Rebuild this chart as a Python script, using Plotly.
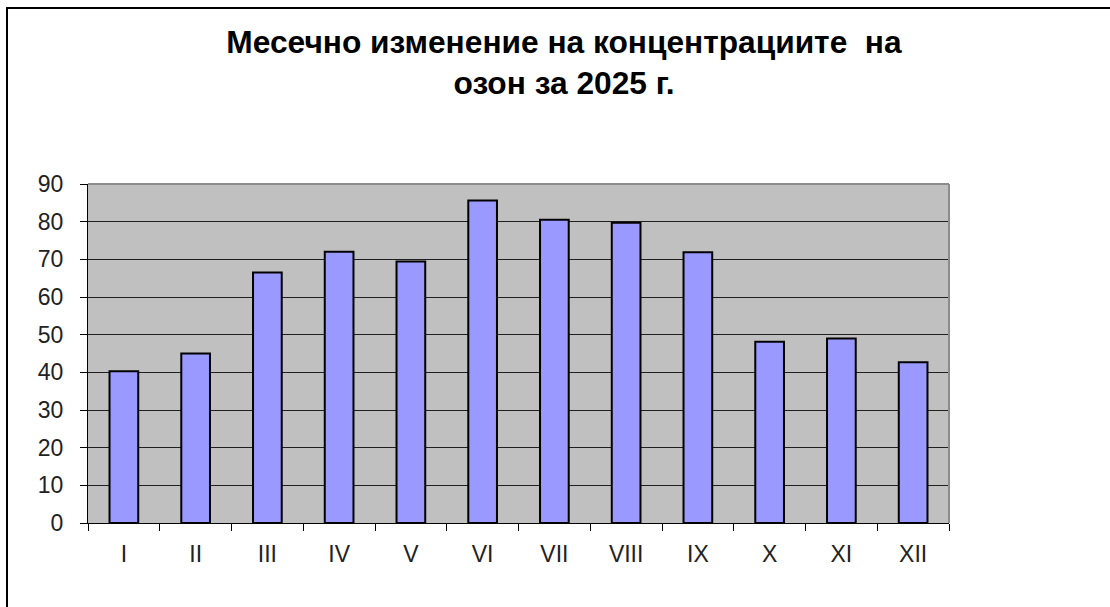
import plotly.graph_objects as go

months = ["I", "II", "III", "IV", "V", "VI", "VII", "VIII", "IX", "X", "XI", "XII"]
ozone = [40.3, 45.0, 66.5, 72.0, 69.4, 85.6, 80.5, 79.7, 71.9, 48.1, 49.0, 42.7]
y_ticks = [0, 10, 20, 30, 40, 50, 60, 70, 80, 90]
title_text = "Месечно изменение на концентрациите  на<br>озон за 2025 г."

W, H = 1110, 607
L, R, T, B = 88, 161, 184, 84
pw, ph = W - L - R, H - T - B

fig = go.Figure()
fig.add_trace(go.Bar(
    x=months, y=ozone,
    marker=dict(color="#9999FF", line=dict(color="black", width=2)),
    width=0.4,
))

def px_x(p):
    return (p - L) / pw

def px_y(p):
    return (H - B - p) / ph

fig.update_layout(
    width=W, height=H,
    margin=dict(l=L, r=R, t=T, b=B, pad=0),
    paper_bgcolor="white",
    plot_bgcolor="#C0C0C0",
    font=dict(family="Liberation Sans, Arial, sans-serif", color="black"),
    showlegend=False,
    title=dict(
        text="<b>" + title_text + "</b>",
        x=564 / W, xanchor="center",
        y=1 - 53 / H, yanchor="top", yref="container",
        font=dict(size=31.7, color="black"),
    ),
    xaxis=dict(
        type="category",
        tickson="boundaries",
        ticks="outside", ticklen=7, tickcolor="black", tickwidth=1,
        showline=True, linecolor="black", linewidth=1,
        showgrid=False,
        tickfont=dict(size=23, color="#222222"),
        ticklabelstandoff=10,
        range=[-0.5, 11.5],
    ),
    yaxis=dict(
        range=[0, 90],
        tickvals=y_ticks,
        ticks="outside", ticklen=7, tickcolor="black", tickwidth=1,
        showline=True, linecolor="black", linewidth=1,
        showgrid=True, gridcolor="#202020", gridwidth=1,
        zeroline=False,
        tickfont=dict(size=23, color="#222222"),
        ticklabelstandoff=12,
    ),
    shapes=[
        # grey top and right border of plot area
        dict(type="line", xref="paper", yref="paper", x0=0, x1=1, y0=1, y1=1,
             line=dict(color="#8C8C8C", width=2)),
        dict(type="line", xref="paper", yref="paper", x0=1, x1=1, y0=0, y1=1,
             line=dict(color="#8C8C8C", width=2)),
        # outer frame (left and top)
        dict(type="line", xref="paper", yref="paper",
             x0=px_x(7), x1=px_x(7), y0=px_y(610), y1=px_y(8),
             line=dict(color="black", width=2)),
        dict(type="line", xref="paper", yref="paper",
             x0=px_x(6), x1=px_x(1115), y0=px_y(8), y1=px_y(8),
             line=dict(color="black", width=2)),
    ],
)

fig.write_html("out.html", config={"displayModeBar": False},
               post_script="document.body.style.margin='0px';")
